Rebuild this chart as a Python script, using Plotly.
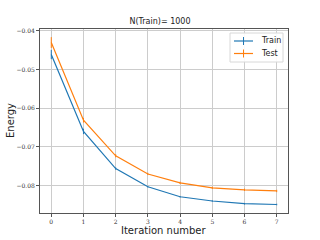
import plotly.graph_objects as go

iterations = [0, 1, 2, 3, 4, 5, 6, 7]
train_energy = [-0.0461, -0.0660, -0.0756, -0.0803, -0.0829, -0.0840, -0.0847, -0.0849]
train_err = [0.0012, 0.0007, 0.0003, 0.0002, 0.0002, 0.0002, 0.0002, 0.0002]
test_energy = [-0.0430, -0.0631, -0.0723, -0.0770, -0.0793, -0.0806, -0.0811, -0.0814]
test_err = [0.0014, 0.0006, 0.0004, 0.0003, 0.0003, 0.0003, 0.0003, 0.0003]
y_ticks = [-0.04, -0.05, -0.06, -0.07, -0.08]
y_tick_labels = ["\u22120.04", "\u22120.05", "\u22120.06", "\u22120.07", "\u22120.08"]
series_names = ["Train", "Test"]
series_colors = ["#1f77b4", "#ff7f0e"]

W, H = 320, 240
L, R, T, B = 40, 32, 29, 27
pw, ph = W - L - R, H - T - B

def px(x):  # pixel x -> paper
    return (x - L) / pw

def py(y):  # pixel y -> paper
    return 1 - (y - T) / ph

fig = go.Figure()
for name, ys, err, col in [(series_names[0], train_energy, train_err, series_colors[0]),
                           (series_names[1], test_energy, test_err, series_colors[1])]:
    fig.add_trace(go.Scatter(
        x=iterations, y=ys, mode="lines", name=name, showlegend=False,
        line=dict(color=col, width=1.2),
        error_y=dict(type="data", array=err, width=0, thickness=1, color=col),
    ))

shapes = [dict(type="rect", xref="paper", yref="paper", x0=px(230), x1=px(283), y0=py(62), y1=py(33),
               fillcolor="rgba(255,255,255,0.9)", line=dict(color="#d8d8d8", width=1), layer="above")]
annotations = []
for i, (name, col) in enumerate(zip(series_names, series_colors)):
    yc = 41 + 12.5 * i
    shapes.append(dict(type="line", xref="paper", yref="paper", x0=px(234), x1=px(253), y0=py(yc), y1=py(yc),
                       line=dict(color=col, width=1.2), layer="above"))
    shapes.append(dict(type="line", xref="paper", yref="paper", x0=px(243.5), x1=px(243.5), y0=py(yc - 4), y1=py(yc + 4),
                       line=dict(color=col, width=1), layer="above"))
    annotations.append(dict(text=name, xref="paper", yref="paper", x=px(259), y=py(yc), xanchor="left", yanchor="middle",
                            showarrow=False, font=dict(family="DejaVu Sans", size=8, color="#222")))

annotations.append(dict(text="Iteration number", xref="paper", yref="paper", x=0.5, y=py(230),
                        xanchor="center", yanchor="middle", showarrow=False,
                        font=dict(family="DejaVu Sans", size=10, color="#222")))
annotations.append(dict(text="Energy", xref="paper", yref="paper", x=px(10), y=0.5, textangle=-90,
                        xanchor="center", yanchor="middle", showarrow=False,
                        font=dict(family="DejaVu Sans", size=10, color="#222")))

fig.update_layout(
    width=W, height=H,
    margin=dict(l=L, r=R, t=T, b=B, autoexpand=False),
    paper_bgcolor="white", plot_bgcolor="white",
    title=dict(text="N(Train)= 1000", x=0.5, xanchor="center", y=1 - 21/240, yanchor="middle",
               font=dict(family="DejaVu Sans", size=8, color="#222")),
    shapes=shapes, annotations=annotations,
    showlegend=False,
)
fig.update_xaxes(
    range=[-0.35, 7.35], tickvals=iterations, ticktext=[str(i) for i in iterations],
    showgrid=True, gridcolor="#cccccc", gridwidth=1,
    showline=True, linecolor="#555", linewidth=1, mirror=True,
    ticks="outside", ticklen=3, tickcolor="#555", zeroline=False, automargin=False,
    tickfont=dict(family="DejaVu Serif", size=6, color="#333333"),
)
fig.update_yaxes(
    range=[-0.0871, -0.0395], tickvals=y_ticks, ticktext=y_tick_labels,
    showgrid=True, gridcolor="#cccccc", gridwidth=1,
    showline=True, linecolor="#555", linewidth=1, mirror=True,
    ticks="outside", ticklen=3, tickcolor="#555", zeroline=False, automargin=False,
    tickfont=dict(family="DejaVu Serif", size=6, color="#333333"),
)

fig.write_html("out.html", config={"displayModeBar": False},
               post_script="document.body.style.margin='0';document.body.style.padding='0';")
